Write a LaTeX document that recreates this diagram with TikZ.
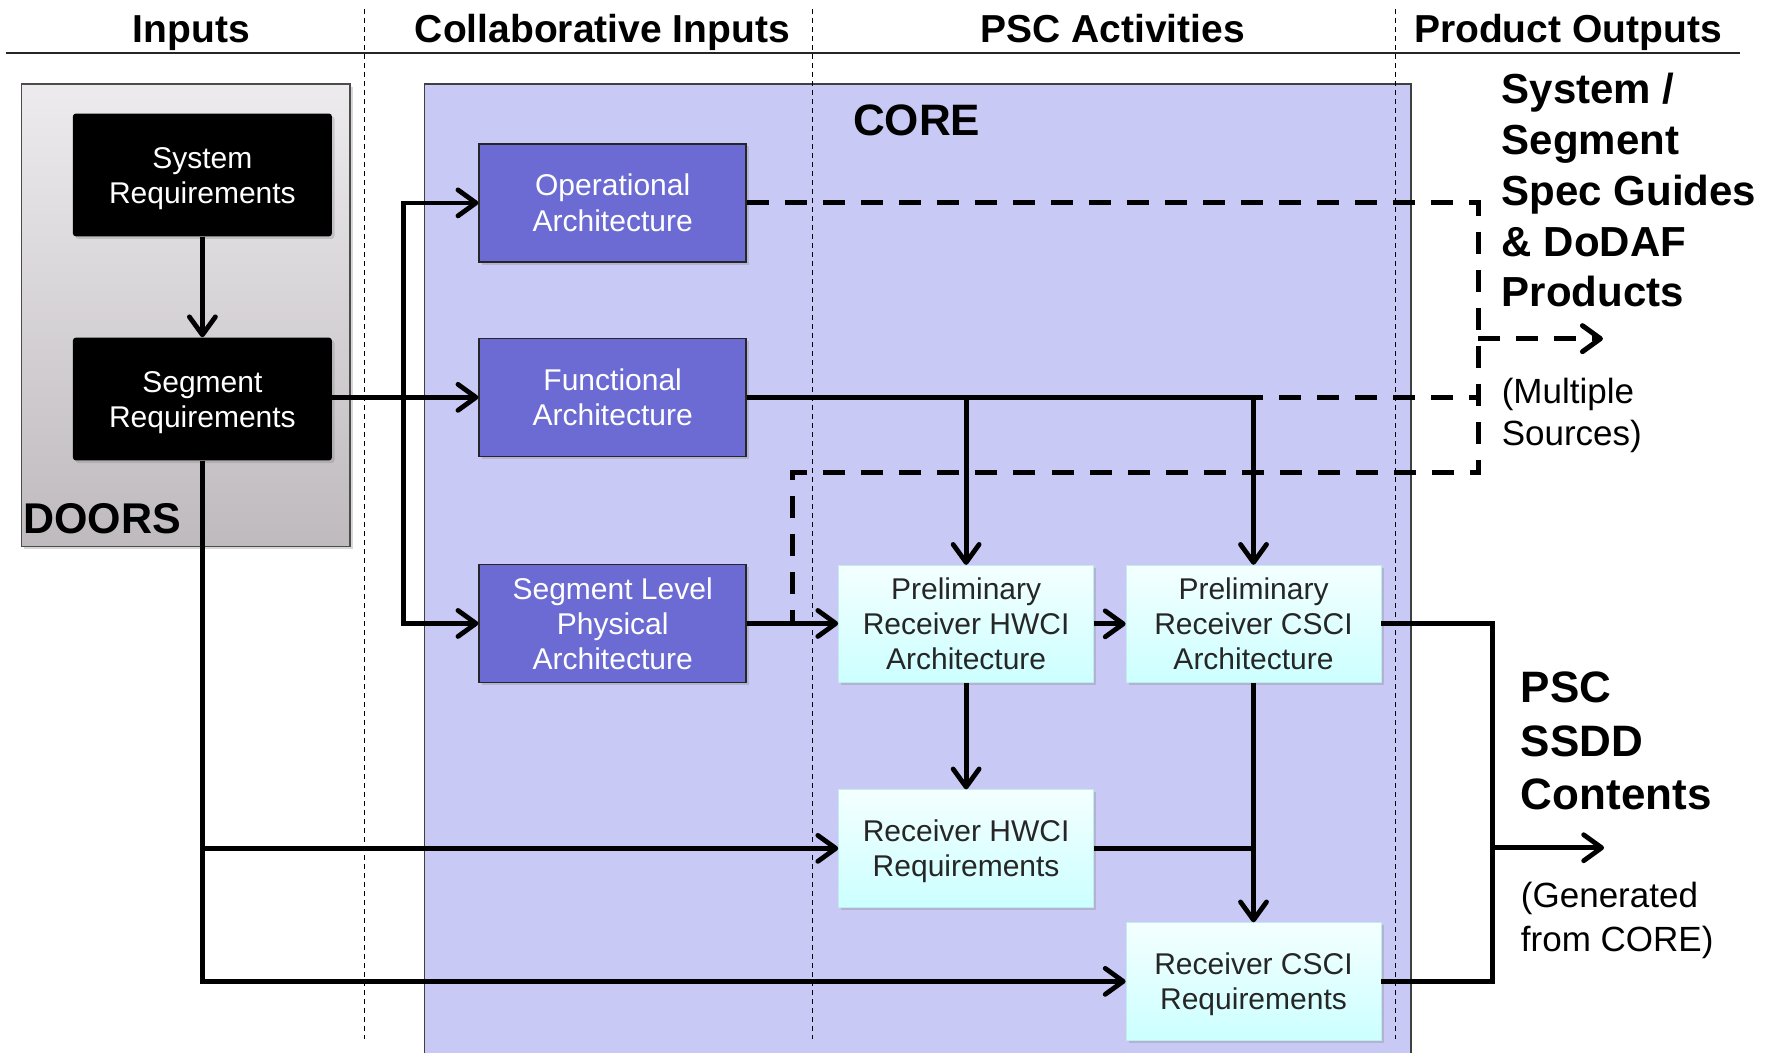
\documentclass[tikz,border=0pt]{standalone}
\usepackage{fontspec}
\setmainfont{Liberation Sans}
\usetikzlibrary{arrows.meta,shadows,calc}
\definecolor{corefill}{RGB}{201,201,246}
\definecolor{midblue}{RGB}{107,107,211}
\definecolor{cyantop}{RGB}{244,255,255}
\definecolor{cyanbot}{RGB}{204,255,255}
\definecolor{doorstop}{RGB}{238,235,238}
\definecolor{doorsbot}{RGB}{190,186,190}
\newcommand\toplift{\rule{0pt}{13.8pt}}
\newcommand\botdrop{\rule[-3.2pt]{0pt}{3.2pt}}
\tikzset{
  shadowed/.style={drop shadow={opacity=0.3,shadow xshift=1.3pt,shadow yshift=-1.3pt}},
  boxtext/.style={align=center, inner sep=0pt, font=\fontsize{15}{17.5}\selectfont},
  blackbox/.style={boxtext, fill=black, text=white, rounded corners=1.5pt,
    minimum width=129.5pt, minimum height=61.4pt, shadowed},
  bluebox/.style={boxtext, fill=midblue, draw=black!85, line width=0.8pt, text=white,
    minimum width=133.5pt, minimum height=59pt, shadowed},
  cyanbox/.style={boxtext, top color=cyantop, bottom color=cyanbot, draw=cyanbot!85!gray,
    line width=0.4pt, text=black!85, minimum width=127.5pt, minimum height=58.6pt, shadowed},
  doorsbox/.style={top color=doorstop, bottom color=doorsbot, draw=black!70, line width=0.6pt,
    inner sep=0pt, shadowed},
  wire/.style={line width=2.4pt},
  arr/.style={line width=2.4pt, -{Straight Barb[length=9pt,width=13pt,round]}},
  dashline/.style={line width=2.5pt, dash pattern=on 11pt off 8pt},
  dasharr/.style={dashline, -{Straight Barb[length=9pt,width=13pt,round]}},
  sepline/.style={line width=0.6pt, dash pattern=on 2.5pt off 2pt},
  header/.style={font=\fontsize{19.5}{23}\selectfont\bfseries, anchor=base, inner sep=0pt},
  bigbold/.style={align=left, inner sep=0pt, anchor=north west},
  note/.style={align=left, inner sep=0pt, anchor=north west, font=\fontsize{17.5}{20.6}\selectfont},
}
\begin{document}
\begin{tikzpicture}[x=0.5644pt,y=-0.5644pt]
\useasboundingbox[fill=white] (0,0) rectangle (1568,933);

% headers
\node[header] (hin) at (169.6,37.3) {Inputs};
\node[header] (hcol) at (533.6,37.3) {Collaborative Inputs};
\node[header] (hpsc) at (985.6,37.3) {PSC Activities};
\node[header] (hout) at (1389,37.3) {Product Outputs};
\coordinate (hl) at (5,47);
\coordinate (hr) at (1541,47);
\draw[line width=1pt, black!85] (hl) -- (hr);

% DOORS container
\node[doorsbox, minimum width=164.4pt, minimum height=231.2pt] (doors) at (164.4,279.2) {};
\node[inner sep=0pt, anchor=base west, font=\fontsize{21.5}{24}\selectfont\bfseries] (doorslbl) at (20.4,473) {DOORS};

% CORE container
\fill[corefill] (376.3,74.4) rectangle (1250,933);
\draw[black!75, line width=0.7pt] (376.3,933) -- (376.3,74.4) -- (1250,74.4) -- (1250,933);
\node[inner sep=0pt, anchor=base, font=\fontsize{22}{24}\selectfont\bfseries] (corelbl) at (812,120.2) {CORE};

% separators
\foreach \sx in {323,720,1236.5}{
  \draw[sepline] (\sx,8) -- (\sx,920);
}

% boxes
\node[blackbox] (sysreq) at (179.3,155) {\toplift System\\Requirements\botdrop};
\node[blackbox] (segreq) at (179.3,353.5) {\toplift Segment\\Requirements\botdrop};
\node[bluebox] (oper) at (542.75,179.75) {\toplift Operational\\Architecture\botdrop};
\node[bluebox] (funct) at (542.75,352) {\toplift Functional\\Architecture\botdrop};
\node[bluebox] (slpa) at (542.75,552.3) {\toplift Segment Level\\Physical\\Architecture\botdrop};
\node[cyanbox] (phwci) at (855.85,552.65) {\toplift Preliminary\\Receiver HWCI\\Architecture\botdrop};
\node[cyanbox] (pcsci) at (1110.45,552.65) {\toplift Preliminary\\Receiver CSCI\\Architecture\botdrop};
\node[cyanbox] (rhwci) at (855.85,751.55) {\toplift Receiver HWCI\\Requirements\botdrop};
\node[cyanbox] (rcsci) at (1110.45,869.35) {\toplift Receiver CSCI\\Requirements\botdrop};

% dashed connectors
\coordinate (rt) at (1309.5,179.75);
\coordinate (rb) at (1309.5,419);
\coordinate (lb) at (702,419);
\coordinate (dout) at (1309.5,300);
\coordinate (douttip) at (1420,300);
\draw[dashline] (oper.east) -- (rt) -- (rb) -- (lb) -- (lb |- slpa.east) -- (slpa.east);
\draw[dashline] (funct.east) -- (funct.east -| rt);
\draw[dasharr] (dout) -- (douttip);

% solid connectors
\draw[arr] (sysreq) -- (segreq);
\draw[arr] (segreq.east |- funct.west) -- (funct.west);
\coordinate (bus) at (357.5,352);
\draw[arr] (bus) |- (oper.west);
\draw[arr] (bus) |- (slpa.west);
\draw[arr] (segreq.south) |- (rcsci.west);
\draw[arr] (segreq.south |- rhwci.west) -- (rhwci.west);
\draw[wire] (funct.east) -- (funct.east -| pcsci.north);
\draw[arr] (funct.east -| phwci.north) -- (phwci.north);
\draw[arr] (funct.east -| pcsci.north) -- (pcsci.north);
\draw[arr] (slpa.east) -- (slpa.east -| phwci.west);
\draw[arr] (phwci) -- (pcsci);
\draw[arr] (phwci) -- (rhwci);
\draw[arr] (pcsci) -- (rcsci);
\draw[wire] (rhwci.east) -- (rhwci.east -| pcsci.south);
\coordinate (cx) at (1322,552.65);
\draw[wire] (pcsci.east) -- (pcsci.east -| cx) |- (rcsci.east);
\coordinate (outs) at (1322,751);
\coordinate (oute) at (1421,751);
\draw[arr] (outs) -- (oute);

% right-hand texts
\node[bigbold, font=\fontsize{21}{25.4}\selectfont\bfseries] (spec) at (1330,64.5)
  {System /\\Segment\\Spec Guides\\\& DoDAF\\Products};
\node[note] (multi) at (1330,335) {(Multiple\\Sources)};
\node[bigbold, font=\fontsize{22}{26.8}\selectfont\bfseries] (ssdd) at (1347,595)
  {PSC\\SSDD\\Contents};
\node[note, font=\fontsize{17.5}{21.9}\selectfont] (gen) at (1347,781.4) {(Generated\\from CORE)};
\end{tikzpicture}
\end{document}
